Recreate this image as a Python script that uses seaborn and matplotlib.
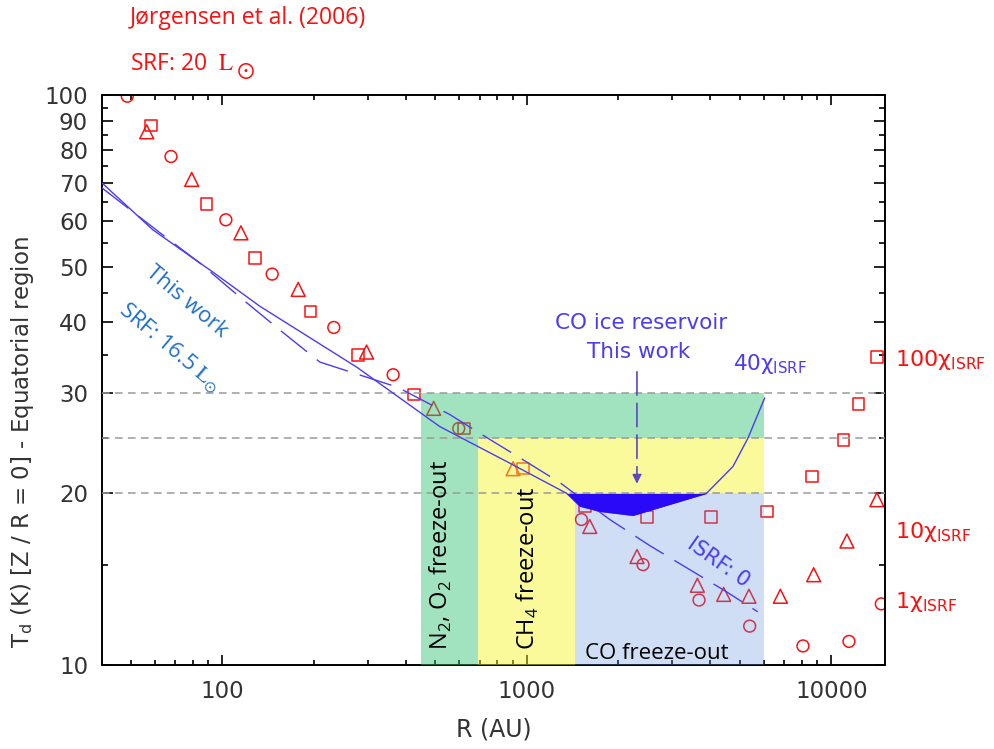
import numpy as np
import pandas as pd
import matplotlib
matplotlib.use("Agg")
import matplotlib.pyplot as plt
import seaborn as sns
from matplotlib.ticker import FixedLocator, NullFormatter, FixedFormatter, LogLocator

# Jørgensen et al. (2006) equatorial dust temperatures, three ISRF strengths
r_isrf100 = [58.3, 88.9, 128.0, 195.0, 279.5, 426.7, 622.6, 972.5, 1550, 2482,
             4018, 6156, 8637, 10975, 12293, 14110]
t_isrf100 = [88.4, 64.4, 51.8, 41.7, 35.0, 29.8, 26.0, 22.1, 19.0, 18.2,
             18.2, 18.6, 21.4, 24.8, 28.7, 34.7]
r_isrf10 = [56.5, 79.4, 115.2, 177.6, 297.8, 494.6, 901.6, 1610, 2301, 3632,
            4431, 5364, 6802, 8748, 11250, 14110]
t_isrf10 = [86.2, 71.1, 57.3, 45.6, 35.4, 28.2, 22.1, 17.5, 15.5, 13.8,
            13.3, 13.2, 13.2, 14.4, 16.5, 19.5]
r_isrf1 = [48.8, 67.9, 102.8, 145.9, 232.5, 364.1, 598, 1512, 2408, 3677,
           5393, 8067, 11424, 14590]
t_isrf1 = [99.5, 78.0, 60.4, 48.5, 39.1, 32.3, 26.0, 18.0, 15.0, 13.0,
           11.7, 10.8, 11.0, 12.8]

# This work: 40 x ISRF model and ISRF = 0 model
r_model40 = [40.3, 59.2, 93.2, 132.9, 276.7, 518.1, 879.6, 1353, 1493, 1736,
             2233, 3889, 4754, 5323, 6040]
t_model40 = [70.1, 58.0, 48.9, 42.6, 33.3, 26.2, 22.6, 20.0, 19.0, 18.6,
             18.3, 20.0, 22.3, 25.0, 29.4]
r_model0 = [40.3, 62.5, 84.5, 114.3, 154.6, 209.2, 377.3, 559, 701, 948.5,
            1283, 1873, 2533, 3428, 4466, 5731]
t_model0 = [68.7, 57.3, 50.7, 44.2, 38.7, 34.0, 30.7, 27.5, 25.5, 23.1,
            20.9, 18.0, 16.2, 14.7, 13.5, 12.4]

# Freeze-out zones: (R start, R end, upper temperature)
zone_names = ["N2/O2", "CH4", "CO"]
zone_r0 = [450, 690, 1440]
zone_r1 = [6000, 6000, 6000]
zone_tmax = [30, 25, 20]
zone_colors = ["#2cc16f", "#f4f421", "#6291de"]
zone_alpha = [0.45, 0.45, 0.3]
ref_temps = [20, 25, 30]

RED = "#f91010"
BLUE = "#4b3cf0"
FILL = "#2a08f8"
AZURE = "#2070c8"
GREY = "#333333"

sns.set_style("ticks")
plt.rcParams["font.family"] = ["DejaVu Sans"]
plt.rcParams["mathtext.fontset"] = "dejavusans"

fig = plt.figure(figsize=(9.95, 7.49), dpi=100)
ax = fig.add_axes([0.1025, 0.11215, 0.78693, 0.76102])
ax.set_xscale("log")
ax.set_yscale("log")
ax.set_xlim(40.3, 15000)
ax.set_ylim(10, 100)

# Model points
for r, t, mk, ms in [(r_isrf100, t_isrf100, "s", 8.3),
                     (r_isrf10, t_isrf10, "^", 10.0),
                     (r_isrf1, t_isrf1, "o", 8.5)]:
    sns.scatterplot(x=r, y=t, ax=ax, marker=mk, s=ms ** 2,
                    facecolors="none", edgecolor=RED, linewidth=1.1,
                    zorder=2, legend=False)

# Freeze-out zones, nested so each colour covers only its own area
bounds = zone_r0 + [zone_r1[-1]]
for i, (c, tmax, a) in enumerate(zip(zone_colors, zone_tmax, zone_alpha)):
    ax.fill_between([bounds[i], bounds[i + 1]], 10, tmax, color=c,
                    alpha=a, lw=0, zorder=3)
    if i + 1 < len(zone_tmax):
        ax.fill_between([bounds[i + 1], zone_r1[i]], zone_tmax[i + 1], tmax,
                        color=c, alpha=a, lw=0, zorder=3)

for t in ref_temps:
    ax.axhline(t, color="#9a9a9a", lw=1.1, ls=(0, (5, 3.5)), zorder=4)

# Model curves
sns.lineplot(x=r_model40, y=t_model40, ax=ax, sort=False, estimator=None,
             color=BLUE, lw=1.0, zorder=5)
sns.lineplot(x=r_model0, y=t_model0, ax=ax, sort=False, estimator=None,
             color=BLUE, lw=1.0, linestyle=(0, (24, 9)), zorder=5)

# CO ice reservoir: where the 40 x ISRF model drops below 20 K
t40 = np.array(t_model40)
ax.fill_between(r_model40, t40, 20, where=t40 <= 20.0, interpolate=True,
                color=FILL, lw=0, zorder=6)

ax.annotate("", xy=(2300, 20.8), xytext=(2300, 32.7),
            arrowprops=dict(arrowstyle="-|>", color="#5a48c0", lw=1.2,
                            linestyle=(0, (14, 5)), mutation_scale=13,
                            shrinkA=0, shrinkB=0), zorder=7)
ax.text(2378, 39.8, "CO ice reservoir", color=BLUE, fontsize=15.5,
        ha="center", va="center", zorder=7)
ax.text(2331, 35.4, "This work", color=BLUE, fontsize=15.5,
        ha="center", va="center", zorder=7)
ax.text(4742, 32.9, "40χ$_\\mathregular{ISRF}$", color=BLUE, fontsize=15.5,
        ha="left", va="baseline", zorder=7)
ax.text(4266, 15.16, "ISRF: 0", color=BLUE, fontsize=15, rotation=-35,
        rotation_mode="anchor", ha="center", va="center", zorder=7)

# Zone labels
ax.text(522, 10.62, "N$_\\mathregular{2}$, O$_\\mathregular{2}$ freeze-out",
        family="Open Sans", fontsize=17, rotation=90, rotation_mode="anchor",
        ha="left", va="center", color="black", zorder=7)
ax.text(1008, 10.62, "CH$_\\mathregular{4}$ freeze-out", family="Open Sans",
        fontsize=17, rotation=90, rotation_mode="anchor", ha="left",
        va="center", color="black", zorder=7)
ax.text(2682, 10.25, "CO freeze-out", family="Open Sans", fontsize=16,
        ha="center", va="baseline", color="black", zorder=7)

# Labels of this work's curves
ax.text(76.4, 43.3, "This work", family="Open Sans", fontsize=16,
        color=AZURE, rotation=-40, rotation_mode="anchor", ha="center",
        va="center", zorder=7)
ax.text(67.4, 36.1, r"SRF: 16.5 $\mathrm{L}_{\odot}$", family="Open Sans",
        math_fontfamily="stix", fontsize=16, color=AZURE, rotation=-40,
        rotation_mode="anchor", ha="center", va="center", zorder=7)

# ISRF strength labels on the right
ytrans = ax.get_yaxis_transform()
for t, lab in [(33.5, "100"), (16.67, "10"), (12.61, "1")]:
    ax.text(1.0128, t, lab + "χ$_\\mathregular{ISRF}$", transform=ytrans,
            color=RED, fontsize=16, ha="left", va="baseline", clip_on=False)

fig.text(130 / 995, 1 - 24 / 749, "Jørgensen et al. (2006)", family="Open Sans",
         fontsize=16.5, color=RED, ha="left", va="baseline")
srf = fig.text(130 / 995, 1 - 70 / 749, r"SRF: 20  $\mathrm{L}$",
               family="Open Sans", math_fontfamily="stix", fontsize=16.5,
               color=RED, ha="left", va="baseline")
ax.annotate(r"$\odot$", xy=(1, 0), xycoords=srf, xytext=(1.0, 4.5),
            textcoords="offset points", ha="left", va="center",
            math_fontfamily="stix", fontsize=17, color=RED,
            annotation_clip=False)

# Axes, ticks and labels
ax.xaxis.set_major_locator(FixedLocator([100, 1000, 10000]))
ax.xaxis.set_major_formatter(FixedFormatter(["100", "1000", "10000"]))
ax.xaxis.set_minor_locator(LogLocator(base=10, subs=np.arange(2, 10)))
ax.xaxis.set_minor_formatter(NullFormatter())
ymaj = list(range(10, 101, 10))
ax.yaxis.set_major_locator(FixedLocator(ymaj))
ax.yaxis.set_major_formatter(FixedFormatter([str(v) for v in ymaj]))
ax.yaxis.set_minor_locator(FixedLocator(list(range(15, 100, 10))))
ax.yaxis.set_minor_formatter(NullFormatter())

ax.tick_params(which="both", direction="in", top=True, right=True,
               width=1.2, color="black", labelsize=16.5, labelcolor=GREY)
ax.tick_params(axis="x", which="major", length=7, pad=11)
ax.tick_params(axis="x", which="minor", length=3.6)
ax.tick_params(axis="y", which="major", length=8, pad=10)
ax.tick_params(axis="y", which="minor", length=4.3)
for sp in ax.spines.values():
    sp.set_linewidth(1.4)
    sp.set_color("black")

ax.set_xlabel("R (AU)", fontsize=17, color=GREY)
ax.xaxis.set_label_coords(0.5, -0.092)
ax.set_ylabel("T$_\\mathregular{d}$ (K) [Z / R = 0] - Equatorial region",
              fontsize=16.5, color=GREY)
ax.yaxis.set_label_coords(-0.084, 0.392)

fig.savefig("out.png", dpi=100)
